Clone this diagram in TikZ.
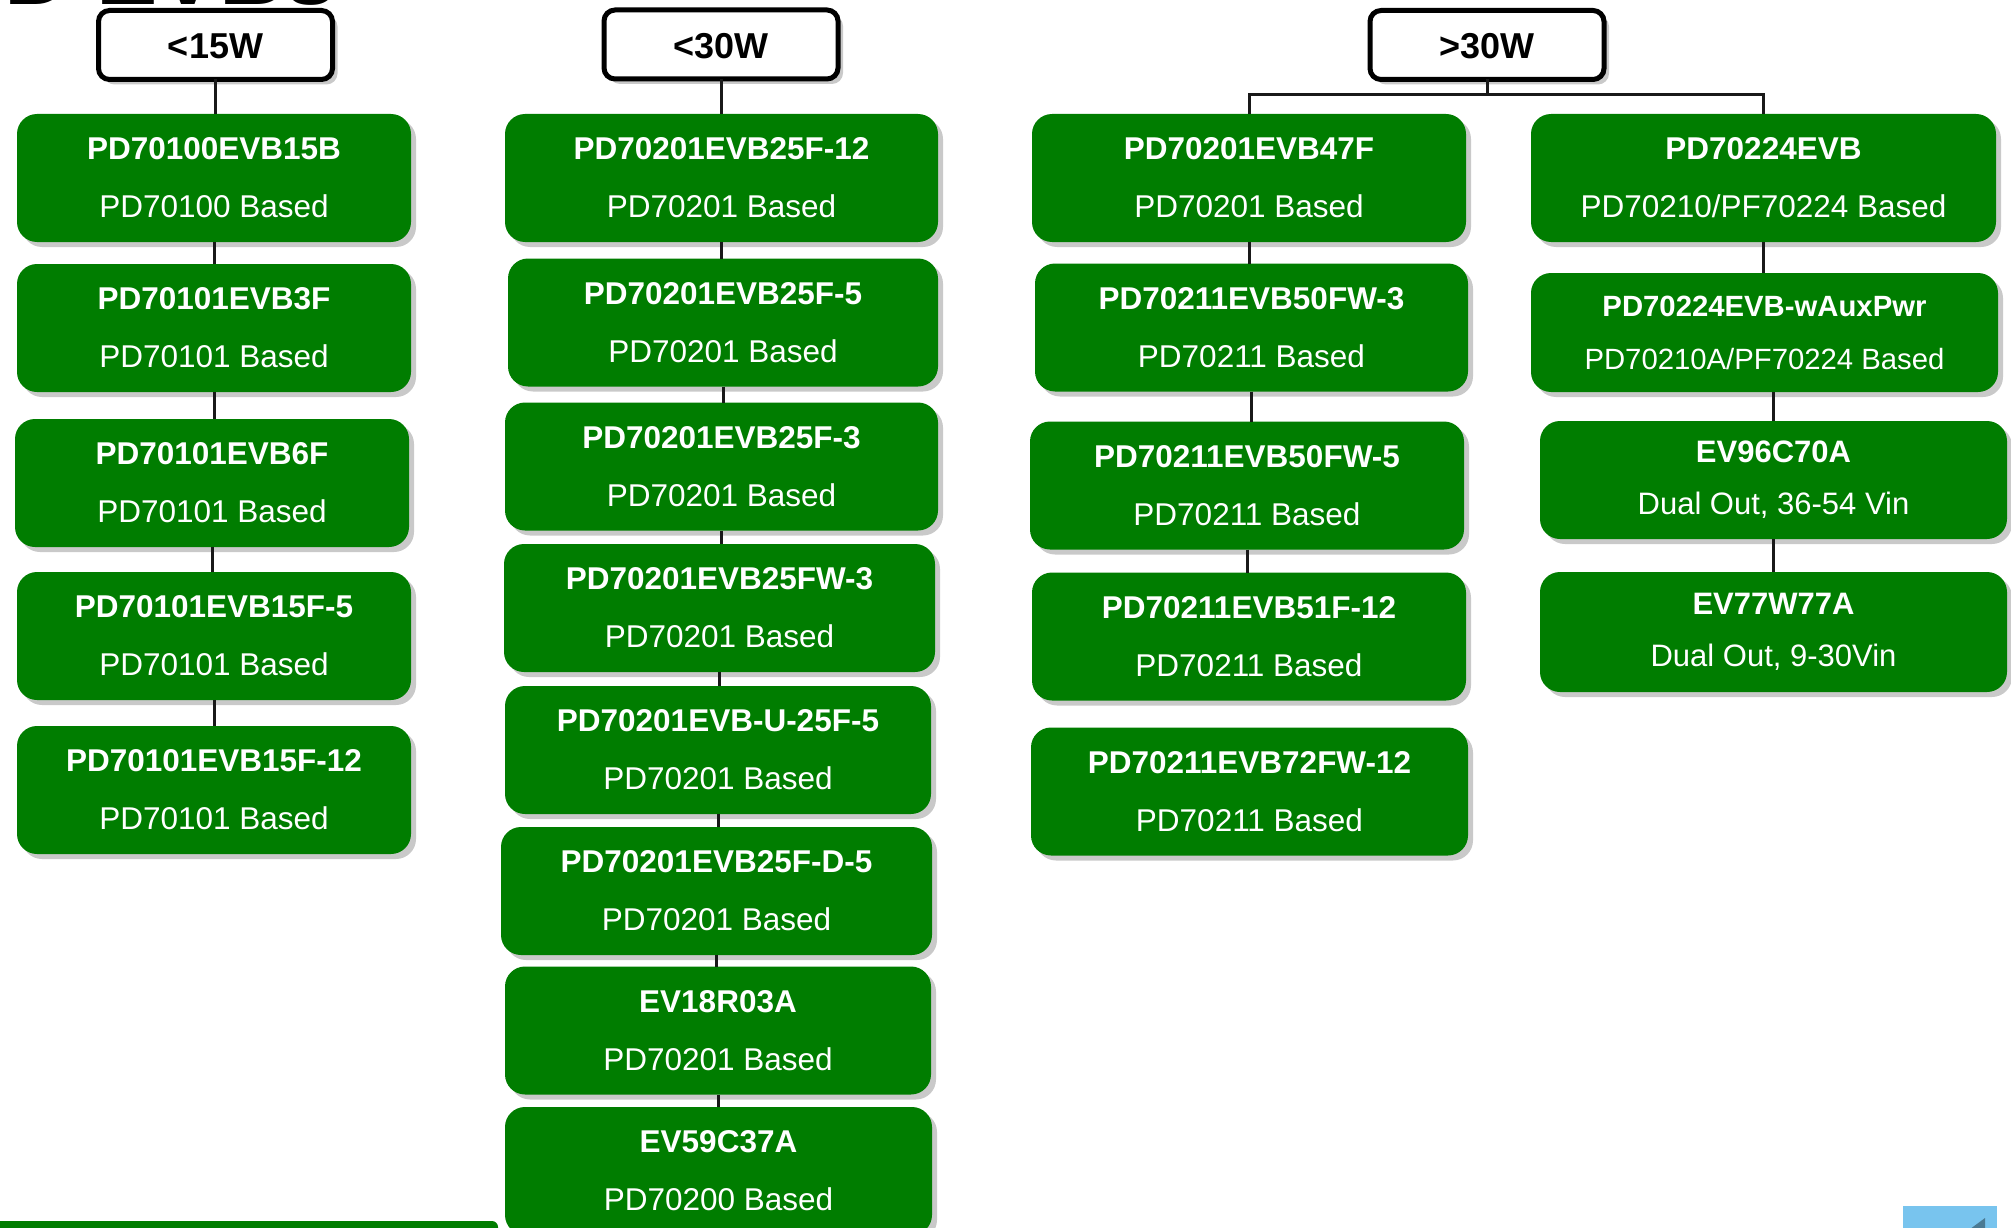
\documentclass[tikz,border=0pt]{standalone}
\usepackage{fontspec}
\setmainfont{Liberation Sans}
\usetikzlibrary{shadows}
\definecolor{evgreen}{RGB}{0,125,0}
\definecolor{navblue}{RGB}{120,196,238}
\definecolor{navdark}{RGB}{74,122,147}
\tikzset{
  gbox/.style={rectangle, rounded corners=20pt, fill=evgreen, text=white,
    inner sep=0pt, outer sep=0pt, align=center,
    minimum height=128pt,
    font=\fontsize{31.5}{58}\selectfont,
    execute at begin node={\rule{0pt}{26.5pt}},
    drop shadow={shadow xshift=5pt, shadow yshift=-5pt, opacity=0.3, fill=black!70}},
  gsmall/.style={font=\fontsize{31}{52}\selectfont},
  hbox/.style={rectangle, rounded corners=11pt, draw=black, line width=5pt, fill=white,
    inner sep=0pt, outer sep=0pt, minimum width=234pt, minimum height=69pt,
    font=\fontsize{36}{40}\selectfont\bfseries,
    execute at begin node={\rule{0pt}{27.8pt}},
    drop shadow={shadow xshift=5pt, shadow yshift=-5pt, opacity=0.3, fill=black!70}},
  conn/.style={line width=3pt, draw=black!90},
}
\begin{document}
\begin{tikzpicture}[x=1pt,y=-1pt]
\useasboundingbox (0,0) rectangle (2011,1228);
\clip (0,0) rectangle (2011,1228);

% cut-off title
\node[anchor=base west, inner sep=0pt, font=\fontsize{92}{92}\selectfont\bfseries] (title) at (-57,5) {PD EVBs};

% headers
\node[hbox] (H1) at (215.5,45) {<15W};
\node[hbox] (H2) at (721,44.5) {<30W};
\node[hbox] (H3) at (1487,45) {>30W};

% column 1
\node[gbox, minimum width=394pt] (A1) at (214,178) {\textbf{PD70100EVB15B}\\PD70100 Based};
\node[gbox, minimum width=394pt] (A2) at (214,328) {\textbf{PD70101EVB3F}\\PD70101 Based};
\node[gbox, minimum width=394pt] (A3) at (212,483) {\textbf{PD70101EVB6F}\\PD70101 Based};
\node[gbox, minimum width=394pt] (A4) at (214,636) {\textbf{PD70101EVB15F-5}\\PD70101 Based};
\node[gbox, minimum width=394pt] (A5) at (214,790) {\textbf{PD70101EVB15F-12}\\PD70101 Based};

% column 2
\node[gbox, minimum width=433pt] (B1) at (721.5,178) {\textbf{PD70201EVB25F-12}\\PD70201 Based};
\node[gbox, minimum width=430pt] (B2) at (723,322.5) {\textbf{PD70201EVB25F-5}\\PD70201 Based};
\node[gbox, minimum width=433pt] (B3) at (721.5,466.5) {\textbf{PD70201EVB25F-3}\\PD70201 Based};
\node[gbox, minimum width=431pt] (B4) at (719.5,608) {\textbf{PD70201EVB25FW-3}\\PD70201 Based};
\node[gbox, minimum width=426pt] (B5) at (718,750) {\textbf{PD70201EVB-U-25F-5}\\PD70201 Based};
\node[gbox, minimum width=431pt] (B6) at (716.5,891) {\textbf{PD70201EVB25F-D-5}\\PD70201 Based};
\node[gbox, minimum width=426pt] (B7) at (718,1030.5) {\textbf{EV18R03A}\\PD70201 Based};
\node[gbox, minimum width=427pt] (B8) at (718.5,1171) {\textbf{EV59C37A}\\PD70200 Based};

% column 3a
\node[gbox, minimum width=434pt] (C1) at (1249,178) {\textbf{PD70201EVB47F}\\PD70201 Based};
\node[gbox, minimum width=433pt] (C2) at (1251.5,327.5) {\textbf{PD70211EVB50FW-3}\\PD70211 Based};
\node[gbox, minimum width=434pt] (C3) at (1247,485.5) {\textbf{PD70211EVB50FW-5}\\PD70211 Based};
\node[gbox, minimum width=434pt] (C4) at (1249,636.5) {\textbf{PD70211EVB51F-12}\\PD70211 Based};
\node[gbox, minimum width=437pt] (C5) at (1249.5,791.5) {\textbf{PD70211EVB72FW-12}\\PD70211 Based};

% column 3b
\node[gbox, minimum width=465pt] (D1) at (1763.5,178) {\textbf{PD70224EVB}\\PD70210/PF70224 Based};
\node[gbox, minimum width=467pt, minimum height=119pt, font=\fontsize{29.3}{53}\selectfont] (D2) at (1764.5,332.5) {\textbf{PD70224EVB-wAuxPwr}\\PD70210A/PF70224 Based};
\node[gbox, gsmall, minimum width=467pt, minimum height=118pt] (D3) at (1773.5,480) {\textbf{EV96C70A}\\Dual Out, 36-54 Vin};
\node[gbox, gsmall, minimum width=467pt, minimum height=120pt] (D4) at (1773.5,632) {\textbf{EV77W77A}\\Dual Out, 9-30Vin};

% connectors column 1
\draw[conn] (H1.south) -- (H1.south |- A1.north);
\foreach \a/\b in {A1/A2, A2/A3, A3/A4, A4/A5}
  \draw[conn] (\a.south) -- (\a.south |- \b.north);

% connectors column 2
\draw[conn] (H2.south) -- (H2.south |- B1.north);
\foreach \a/\b in {B1/B2, B2/B3, B3/B4, B4/B5, B5/B6, B6/B7, B7/B8}
  \draw[conn] (\a.south) -- (\a.south |- \b.north);

% connectors column 3
\coordinate (bus) at (1487,95);
\draw[conn] (H3.south) -- (H3.south |- bus);
\draw[conn] (C1.north) -- (C1.north |- bus) -- (D1.north |- bus) -- (D1.north);
\foreach \a/\b in {C1/C2, C2/C3, C3/C4}
  \draw[conn] (\a.south) -- (\a.south |- \b.north);
\draw[conn] (D1.south) -- (D1.south |- D2.north);
\draw[conn] (D3.north) -- (D3.north |- D2.south);
\draw[conn] (D3.south) -- (D3.south |- D4.north);

% page decorations
\fill[evgreen, rounded corners=6pt] (-10,1221) rectangle (498,1250);
\fill[navblue] (1903,1206) rectangle (1997,1240);
\fill[navdark] (1962,1235) -- (1985,1218) -- (1985,1235) -- cycle;
\end{tikzpicture}
\end{document}
